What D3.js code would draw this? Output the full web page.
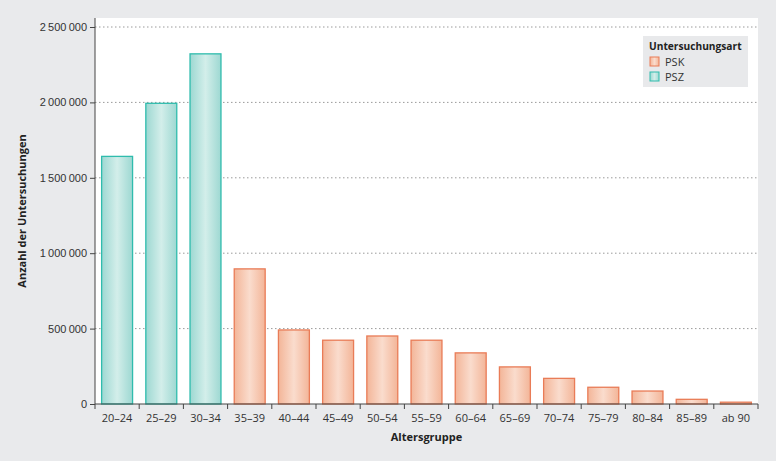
<!DOCTYPE html>
<html>
<head>
<meta charset="utf-8">
<script src="https://cdn.jsdelivr.net/npm/d3@7"></script>
<style>
  body { margin: 0; background: #e9eaec; }
  svg { display: block; font-family: "Open Sans", "Noto Sans", sans-serif; }
  .grid line { stroke: #9a9a9a; stroke-dasharray: 1.5 2.5; }
  .axis text { font-size: 11px; fill: #333; }
  .axis path, .axis line { stroke: #444; }
</style>
</head>
<body>
<script>
// data
var groups = ["20–24","25–29","30–34","35–39","40–44","45–49","50–54","55–59","60–64","65–69","70–74","75–79","80–84","85–89","ab 90"];
var counts = [1642000, 1994000, 2322000, 896000, 491000, 423000, 451000, 423000, 339000, 246000, 170000, 111000, 86000, 31000, 12000];
var types  = ["PSZ","PSZ","PSZ","PSK","PSK","PSK","PSK","PSK","PSK","PSK","PSK","PSK","PSK","PSK","PSK"];
var yTicks = [0, 500000, 1000000, 1500000, 2000000, 2500000];
var legendItems = ["PSK", "PSZ"];

var W = 776, H = 461;
var margin = {top: 18, right: 18, bottom: 57, left: 95},
    width = W - margin.left - margin.right,
    height = H - margin.top - margin.bottom;

var svg = d3.select("body").append("svg")
    .attr("width", W)
    .attr("height", H);

// gradients for the bars
var defs = svg.append("defs");
var colours = {
  PSZ: {edge: "#9dd8d2", mid: "#d3eeea", stroke: "#2fbcad"},
  PSK: {edge: "#f3b598", mid: "#fadccd", stroke: "#e97c57"}
};
Object.keys(colours).forEach(function(k) {
  var g = defs.append("linearGradient").attr("id", "grad" + k)
      .attr("x1", "0%").attr("x2", "100%").attr("y1", "0%").attr("y2", "0%");
  g.append("stop").attr("offset", "0%").attr("stop-color", colours[k].edge);
  g.append("stop").attr("offset", "50%").attr("stop-color", colours[k].mid);
  g.append("stop").attr("offset", "100%").attr("stop-color", colours[k].edge);
});

var g = svg.append("g").attr("transform", "translate(" + margin.left + "," + margin.top + ")");

// white plot area
g.append("rect").attr("width", width).attr("height", height).attr("fill", "#fff");

var x = d3.scaleBand().domain(groups).range([0, width]).paddingInner(0.3).paddingOuter(0.15);
var y = d3.scaleLinear().domain([0, 2500000]).range([height, height - 2500000 * 75.4 / 500000]);

var fmt = function(d) { return d3.format(",")(d).replace(/,/g, "\u2009"); };

// dotted grid
g.append("g").attr("class", "grid")
  .selectAll("line").data(yTicks.slice(1)).enter().append("line")
    .attr("x1", 0).attr("x2", width)
    .attr("y1", function(d) { return y(d); })
    .attr("y2", function(d) { return y(d); });

// bars
g.selectAll(".bar").data(groups).enter().append("rect")
    .attr("class", "bar")
    .attr("x", function(d) { return x(d); })
    .attr("width", x.bandwidth())
    .attr("y", function(d, i) { return y(counts[i]); })
    .attr("height", function(d, i) { return height - y(counts[i]); })
    .attr("fill", function(d, i) { return "url(#grad" + types[i] + ")"; })
    .attr("stroke", function(d, i) { return colours[types[i]].stroke; })
    .attr("stroke-width", 1.3);

// y axis
var yAxis = g.append("g").attr("class", "axis")
    .call(d3.axisLeft(y).tickValues(yTicks).tickFormat(fmt).tickSize(5).tickPadding(3));
yAxis.select(".domain").attr("d", "M0," + height + "V0");

// x axis, ticks on band boundaries
var xAxis = g.append("g").attr("class", "axis")
    .attr("transform", "translate(0," + height + ")");
xAxis.append("line").attr("x1", 0).attr("x2", width).attr("stroke", "#444");
xAxis.selectAll(".bt").data(d3.range(groups.length + 1)).enter().append("line")
    .attr("x1", function(i) { return i * x.step(); })
    .attr("x2", function(i) { return i * x.step(); })
    .attr("y1", 0).attr("y2", 5).attr("stroke", "#444");
xAxis.selectAll("text").data(groups).enter().append("text")
    .attr("x", function(d) { return x(d) + x.bandwidth() / 2; })
    .attr("y", 18)
    .attr("text-anchor", "middle")
    .text(function(d) { return d; });

// axis titles
svg.append("text")
    .attr("transform", "translate(26," + (margin.top + height / 2) + ") rotate(-90)")
    .attr("text-anchor", "middle")
    .attr("font-size", 11).attr("font-weight", "bold").attr("fill", "#222")
    .text("Anzahl der Untersuchungen");
svg.append("text")
    .attr("x", margin.left + width / 2).attr("y", 441)
    .attr("text-anchor", "middle")
    .attr("font-size", 11).attr("font-weight", "bold").attr("fill", "#222")
    .text("Altersgruppe");

// legend
var leg = svg.append("g").attr("transform", "translate(643,36)");
leg.append("rect").attr("width", 105).attr("height", 51).attr("fill", "#e8e9eb");
leg.append("text").attr("x", 6).attr("y", 14)
    .attr("font-size", 10.2).attr("font-weight", "bold").attr("fill", "#222")
    .text("Untersuchungsart");
var li = leg.selectAll(".li").data(legendItems).enter().append("g")
    .attr("transform", function(d, i) { return "translate(7," + (21 + i * 15) + ")"; });
li.append("rect").attr("width", 9).attr("height", 9)
    .attr("fill", function(d) { return "url(#grad" + d + ")"; })
    .attr("stroke", function(d) { return colours[d].stroke; });
li.append("text").attr("x", 15).attr("y", 9)
    .attr("font-size", 11).attr("fill", "#333")
    .text(function(d) { return d; });
</script>
</body>
</html>
